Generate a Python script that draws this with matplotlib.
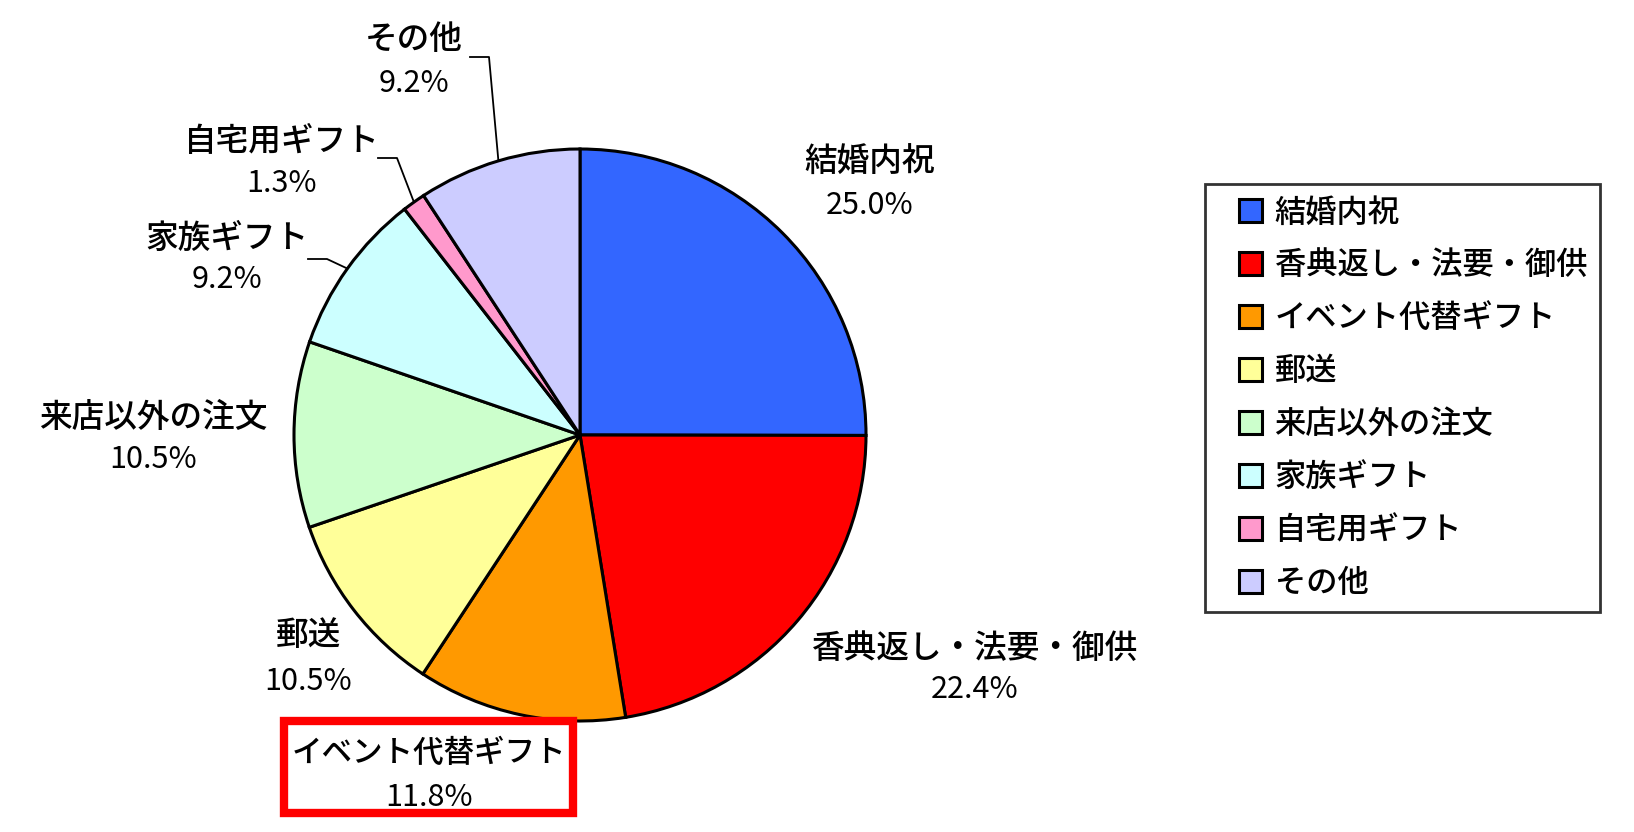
import matplotlib
matplotlib.use("Agg")
import matplotlib.pyplot as plt
from matplotlib.patches import Patch, Rectangle
from matplotlib.legend_handler import HandlerPatch
import numpy as np

# ---- data ----
categories = ["結婚内祝", "香典返し・法要・御供", "イベント代替ギフト", "郵送",
              "来店以外の注文", "家族ギフト", "自宅用ギフト", "その他"]
shares = [25.0, 22.4, 11.8, 10.5, 10.5, 9.2, 1.3, 9.2]
colors = ["#3366FF", "#FF0000", "#FF9900", "#FFFF99",
          "#CCFFCC", "#CCFFFF", "#FF99CC", "#CCCCFF"]

# ---- layout (pixel positions, y from top) ----
W, H = 1634, 832
CX, CY, R = 580, 435, 286
label_pos = [  # (x centre, y line1, y line2, name font size)
    (870, 162, 206, 23.5),
    (975, 648, 690, 23.5),
    (429, 753, 797, 22),
    (308, 635, 682, 23.5),
    (153, 418, 460, 23.5),
    (227, 238, 280, 23.5),
    (282, 142, 183, 23.5),
    (414, 40, 83, 23.5),
]
leaders = {5: [(308, 259), (327, 259)],
           6: [(378, 158), (397, 158)],
           7: [(470, 57), (489, 57)]}

CJK = ["Noto Sans CJK JP", "DejaVu Sans"]
NUM = ["Noto Sans CJK JP", "DejaVu Sans"]
plt.rcParams["font.family"] = CJK

fig = plt.figure(figsize=(W / 100, H / 100), dpi=100)
ax = fig.add_axes([0, 0, 1, 1])

def fy(y):
    return H - y

wedges, _ = ax.pie(shares, colors=colors, startangle=90, counterclock=False,
                   center=(CX, fy(CY)), radius=R, frame=True,
                   wedgeprops=dict(edgecolor="black", linewidth=2.2))
ax.set_xlim(0, W)
ax.set_ylim(0, H)
ax.set_aspect("equal")
ax.axis("off")

for i, (name, val) in enumerate(zip(categories, shares)):
    x, y1, y2, fs = label_pos[i]
    ax.text(x, fy(y1), name, ha="center", va="center", fontsize=fs,
            family=CJK, fontweight="medium")
    ax.text(x, fy(y2), f"{val:.1f}%", ha="center", va="center", fontsize=22,
            family=NUM)

# leader lines to wedge mid-angles
for i, pts in leaders.items():
    w = wedges[i]
    mid = np.deg2rad((w.theta1 + w.theta2) / 2)
    ex = CX + R * np.cos(mid)
    ey = fy(CY) + R * np.sin(mid)
    xs = [p[0] for p in pts] + [ex]
    ys = [fy(p[1]) for p in pts] + [ey]
    ax.plot(xs, ys, color="black", linewidth=1.3)

# red highlight box around the event-gift label
ax.add_patch(Rectangle((284, fy(813)), 289, 92, fill=False,
                       edgecolor="#FF0000", linewidth=6))

LFS = 22.5
SQ = 23  # square size in px
def square_right(legend, orig_handle, xdescent, ydescent, width, height, fontsize):
    s = SQ * 0.72  # px -> points at dpi 100
    return Rectangle((width - s - xdescent, (height - s) / 2 - ydescent), s, s)

handles = [Patch(facecolor=c, edgecolor="black", linewidth=2.2) for c in colors]
em = LFS * 100 / 72
leg = ax.legend(handles, categories, loc="upper left",
                bbox_to_anchor=(1205 / W, 1 - 184 / H), bbox_transform=fig.transFigure,
                fontsize=LFS, frameon=True, fancybox=False, edgecolor="black",
                handlelength=44 / em, handleheight=0.7, handletextpad=13 / em,
                labelspacing=0.67, borderpad=0.4, borderaxespad=0,
                handler_map={Patch: HandlerPatch(patch_func=square_right)},
                prop={"family": CJK, "size": LFS, "weight": "medium"})
leg.get_frame().set_linewidth(2.0)

fig.savefig("out.png", dpi=100, facecolor="white")
